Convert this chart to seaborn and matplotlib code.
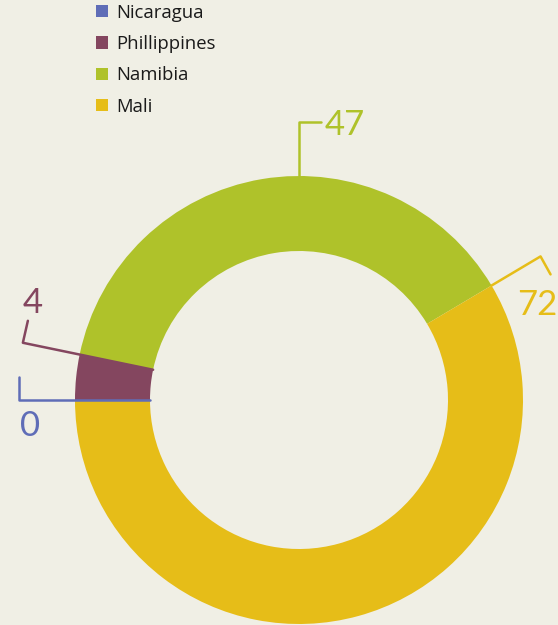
import matplotlib.pyplot as plt
import numpy as np
import seaborn as sns

# --------------------------------------------
# DATA
# --------------------------------------------
countries = ["Nicaragua", "Phillippines", "Namibia", "Mali"]
values = [0, 4, 47, 72]
colors = ["#5f6db7", "#84465f", "#afc22a", "#e6bd18"]

BG = "#f0efe5"
W, H = 558, 625
CX, CY = 299, H - 400
R_OUT, R_IN = 224, 149

sns.set_theme(style="white")
plt.rcParams["font.family"] = ["Open Sans", "DejaVu Sans"]

fig = plt.figure(figsize=(W / 100, H / 100), dpi=100, facecolor=BG)
ax = fig.add_axes([0, 0, 1, 1])
ax.set_facecolor(BG)

wedges, _ = ax.pie(
    values,
    colors=colors,
    startangle=180,
    counterclock=False,
    center=(CX, CY),
    radius=R_OUT,
    wedgeprops=dict(width=R_OUT - R_IN, linewidth=0),
)
ax.set_xlim(0, W)
ax.set_ylim(0, H)
ax.set_aspect("equal")
ax.axis("off")


def polar(r, deg):
    a = np.deg2rad(deg)
    return CX + r * np.cos(a), CY + r * np.sin(a)


# leader lines and value labels
total = sum(values)
bounds = 180 - np.cumsum([0] + values) / total * 360  # slice edges, clockwise
label_kw = dict(fontsize=25, fontweight="normal", family=["Lato", "DejaVu Sans"])

# Nicaragua (0): along its (zero-width) slice, then up
x0, y0 = polar(R_IN, bounds[0])
x1, y1 = polar(280, bounds[0])
ax.plot([x0, x1, x1], [y0, y1, y1 + 23], color=colors[0], lw=1.8)
ax.text(x1 + 11, y1 - 26, str(values[0]), color=colors[0], ha="center", va="center", **label_kw)

# Phillippines (4): along the edge with Namibia
x0, y0 = polar(R_IN, bounds[2])
x1, y1 = polar(282, bounds[2])
ax.plot([x0, x1, x1 + 5], [y0, y1, y1 + 22], color=colors[1], lw=1.8)
ax.text(x1 + 10, y1 + 40, str(values[1]), color=colors[1], ha="center", va="center", **label_kw)

# Namibia (47): straight up from the top of the ring
x0, y0 = polar(R_OUT, 90)
x1, y1 = polar(278, 90)
ax.plot([x0, x1, x1 + 22], [y0, y1, y1], color=colors[2], lw=1.8)
ax.text(x1 + 26, y1 - 3, str(values[2]), color=colors[2], ha="left", va="center", **label_kw)

# Mali (72): out along the edge with Namibia
x0, y0 = polar(R_OUT, bounds[3])
x1, y1 = polar(281, bounds[3])
ax.plot([x0, x1, x1 + 10], [y0, y1, y1 - 18], color=colors[3], lw=1.8)
ax.text(x1 - 3, y1 - 49, str(values[3]), color=colors[3], ha="center", va="center", **label_kw)

leg = ax.legend(
    wedges,
    countries,
    loc="upper left",
    bbox_to_anchor=(79 / W, 1 + 13 / H),
    frameon=False,
    fontsize=13.3,
    handlelength=0.65,
    handleheight=0.65,
    handletextpad=0.45,
    labelspacing=0.72,
)
for t in leg.get_texts():
    t.set_color("#1a1a1a")

fig.savefig("out.png", dpi=100, facecolor=BG)
